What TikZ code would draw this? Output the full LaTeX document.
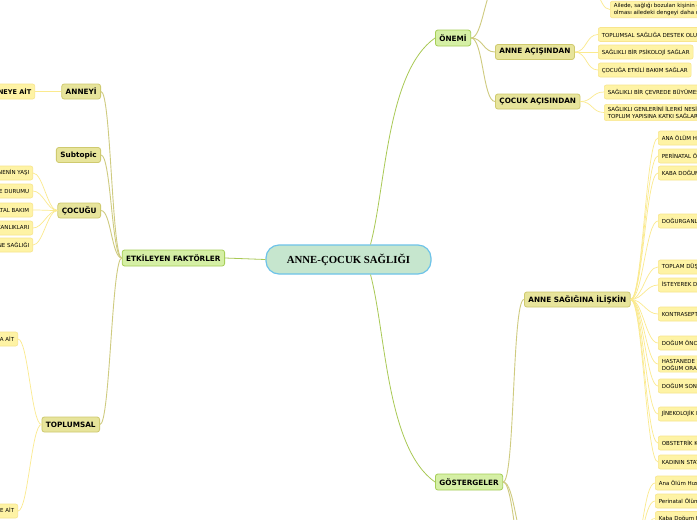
\documentclass[tikz,border=0pt]{standalone}
\usepackage{fontspec}
\setmainfont{DejaVu Sans}
\newfontfamily\rootserif{Liberation Serif}

\definecolor{rootfill}{HTML}{C6E6CE}
\definecolor{rootline}{HTML}{6EC3E9}
\definecolor{mainfill}{HTML}{D5EFA5}
\definecolor{mainline}{HTML}{A6CE58}
\definecolor{subfill}{HTML}{E7E49B}
\definecolor{subline}{HTML}{CFCA6F}
\definecolor{leaffill}{HTML}{FEF3A5}
\definecolor{leafline}{HTML}{F8E58C}
\definecolor{mainlink}{HTML}{A9C955}
\definecolor{sublink}{HTML}{CFCB80}
\definecolor{leaflink}{HTML}{FBEA8E}

\begin{document}
\begin{tikzpicture}[x=1pt, y=1pt,
    rootbox/.style={draw=rootline, fill=rootfill, line width=1.2pt, rounded corners=13pt,
      minimum width=165pt, minimum height=29pt, font=\rootserif\bfseries\fontsize{10.8}{12}\selectfont},
    mainbox/.style={draw=mainline, fill=mainfill, line width=0.8pt, rounded corners=2.5pt,
      inner xsep=4pt, inner ysep=0pt, minimum height=16pt, font=\bfseries\fontsize{7.3}{8}\selectfont},
    subbox/.style={draw=subline, fill=subfill, line width=0.8pt, rounded corners=2.5pt,
      inner xsep=4pt, inner ysep=0pt, minimum height=15pt, font=\bfseries\fontsize{7.3}{8}\selectfont},
    leafbox/.style={draw=leafline, fill=leaffill, line width=0.6pt, rounded corners=2pt,
      inner xsep=3.5pt, inner ysep=2pt, minimum height=14pt, align=left, font=\fontsize{5.5}{7}\selectfont},
    mainwire/.style={draw=mainlink, line width=0.8pt},
    subwire/.style={draw=sublink, line width=0.9pt},
    leafwire/.style={draw=leaflink, line width=0.7pt}]
  \path[use as bounding box, fill=white] (0,0) rectangle (697,-520);

  % centre and main branches
  \node[rootbox] (root) at (348.5,-259.5) {ANNE-ÇOCUK SAĞLIĞI};
  \node[mainbox, anchor=west] (onemi) at (435,-38) {ÖNEMİ};
  \node[mainbox, anchor=east] (etkileyen) at (225,-258) {ETKİLEYEN FAKTÖRLER};
  \node[mainbox, anchor=west] (gosterge) at (435,-482) {GÖSTERGELER};

  \draw[mainwire] ([xshift=22pt]root.north) to[out=75,in=215,looseness=0.7] (onemi.west);
  \draw[mainwire] (root.west) -- (etkileyen.east);
  \draw[mainwire] ([xshift=22pt]root.south) to[out=-75,in=145,looseness=0.7] (gosterge.west);

  % second level
  \node[subbox, anchor=west] (anneac) at (495,-52) {ANNE AÇIŞINDAN};
  \node[subbox, anchor=west] (cocukac) at (495,-101.5) {ÇOCUK AÇISINDAN};
  \node[subbox, anchor=west] (annesag) at (524,-299.5) {ANNE SAĞIĞINA İLİŞKİN};
  \node[subbox, anchor=east] (anneyi) at (101,-91.5) {ANNEYİ};
  \node[subbox, anchor=east] (subtopic) at (101,-155) {Subtopic};
  \node[subbox, anchor=east] (cocugu) at (101,-210.5) {ÇOCUĞU};
  \node[subbox, anchor=east] (toplumsal) at (100,-424.5) {TOPLUMSAL};

  % ends of branches that run off the page
  \coordinate (onemiup) at (497,15);
  \coordinate (aileup) at (585,25);
  \coordinate (gostdowna) at (528,-545);
  \coordinate (gostdownb) at (530,-600);
  \coordinate (altsub) at (630,-560);

  \foreach \child in {onemiup, anneac, cocukac}
    \draw[subwire] (onemi.east) to[out=0,in=180,distance=12pt] (\child.west);
  \foreach \child in {annesag, gostdowna, gostdownb}
    \draw[subwire] (gosterge.east) to[out=0,in=180,distance=12pt] (\child);
  \foreach \child in {anneyi, subtopic, cocugu, toplumsal}
    \draw[subwire] (etkileyen.west) to[out=180,in=0,distance=10pt] (\child.east);

  % leaves, right side
  \node[leafbox, anchor=west] (ailede) at (610,-9.5)
    {Ailede, sağlığı bozulan kişinin önemli bir rol üstlenmiş\\olması ailedeki dengeyi daha çok bozar};
  \draw[leafwire] (aileup) to[out=0,in=180,distance=12pt] (ailede.west);

  \foreach \y/\txt [count=\i] in {34.5/TOPLUMSAL SAĞLIĞA DESTEK OLUR,
      52/SAĞLIKLI BİR PSİKOLOJİ SAĞLAR, 70/ÇOCUĞA ETKİLİ BAKIM SAĞLAR} {
    \node[leafbox, anchor=west] (anneac-\i) at (598,-\y) {\txt};
    \draw[leafwire] (anneac.east) to[out=0,in=180,distance=12pt] (anneac-\i.west);
  }
  \foreach \y/\txt [count=\i] in {92/SAĞLIKLI BİR ÇEVREDE BÜYÜMESİNİ SAĞLAR,
      112.5/{SAĞLIKLI GENLERİNİ İLERKİ NESİLLERE AKTARIR\\TOPLUM YAPISINA KATKI SAĞLAR}} {
    \node[leafbox, anchor=west] (cocukac-\i) at (604,-\y) {\txt};
    \draw[leafwire] (cocukac.east) to[out=0,in=180,distance=12pt] (cocukac-\i.west);
  }
  \foreach \y/\txt [count=\i] in {138/ANA ÖLÜM HIZI, 156/PERİNATAL ÖLÜM HIZI,
      173/KABA DOĞUM HIZI, 221/DOĞURGANLIK HIZLARI, 267/TOPLAM DÜŞÜK HIZI,
      285/İSTEYEREK DÜŞÜK HIZI, 314/KONTRASEPTİF YÖNTEM KULLANIM HIZI,
      343/DOĞUM ÖNCESİ BAKIM ALMA HIZI,
      364/{HASTANEDE VE SAĞLIK PERSONELİ İLE\\DOĞUM ORANI},
      386/DOĞUM SONRASI BAKIM HIZI, 414/JİNEKOLOJİK HASTALIK HIZI,
      443/OBSTETRİK KOMPLİKASYON HIZI, 462/KADININ STATÜSÜ} {
    \node[leafbox, anchor=west] (annesag-\i) at (658,-\y) {\txt};
    \draw[leafwire] (annesag.east) to[out=0,in=180,distance=12pt] (annesag-\i.west);
  }
  \foreach \y/\txt [count=\i] in {483/Ana Ölüm Hızı, 501/Perinatal Ölüm Hızı,
      518.5/Kaba Doğum Hızı} {
    \node[leafbox, anchor=west] (alt-\i) at (655,-\y) {\txt};
    \draw[leafwire] (altsub) to[out=0,in=180,distance=12pt] (alt-\i.west);
  }

  % leaves, left side
  \node[leafbox, anchor=east, minimum height=15pt, font=\bfseries\fontsize{6.5}{7}\selectfont]
    (anneait) at (35,-91.5) {ANNEYE AİT};
  \draw[leafwire] (anneyi.west) -- (anneait.east);
  \foreach \y/\txt [count=\i] in {173/ANNENİN YAŞI, 191/BESLENME DURUMU,
      210/PRENATAL BAKIM, 228/ALIŞKANLIKLARI, 245/ANNE SAĞLIĞI} {
    \node[leafbox, anchor=east] (cocugu-\i) at (33,-\y) {\txt};
    \draw[leafwire] (cocugu.west) to[out=180,in=0,distance=10pt] (cocugu-\i.east);
  }
  \foreach \y/\txt [count=\i] in {339/TOPLUMA AİT, 511/ÇEVREYE AİT} {
    \node[leafbox, anchor=east] (toplumsal-\i) at (18,-\y) {\txt};
    \draw[leafwire] (toplumsal.west) to[out=180,in=0,distance=10pt] (toplumsal-\i.east);
  }
\end{tikzpicture}
\end{document}
